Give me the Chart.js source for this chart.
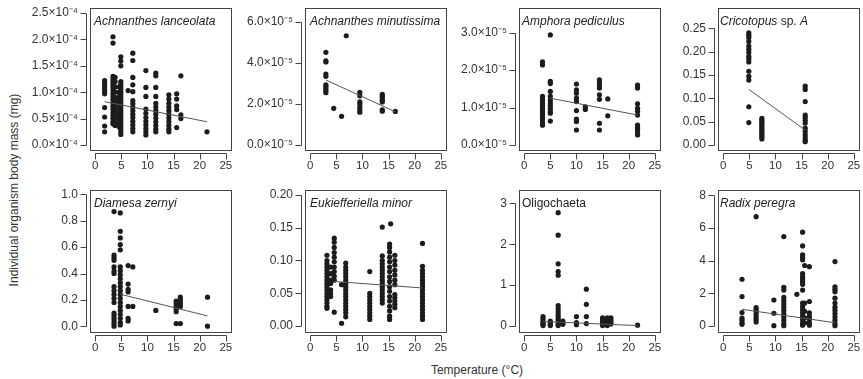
<!DOCTYPE html>
<html>
<head>
<meta charset="utf-8">
<script src="https://cdn.jsdelivr.net/npm/chart.js@4.4.1/dist/chart.umd.min.js"></script>
<style>
  body { margin: 0; background: #fff; font-family: 'Liberation Sans', Arial, sans-serif; }
  #wrap { position: relative; width: 863px; height: 379px; overflow: hidden; }
  #wrap canvas { position: absolute; }
  .ttl { position: absolute; font-size: 12px; line-height: 1; color: #222; white-space: nowrap; font-style: italic; }
  .ttl span { font-style: normal; }
  .axt { position: absolute; font-size: 12px; color: #333; white-space: nowrap; transform: translate(-50%, -50%); }
</style>
</head>
<body>
<div id="wrap">
  <div class="axt" style="left:14px; top:190px; transform: translate(-50%, -50%) rotate(-90deg);">Individual organism body mass (mg)</div>
  <div class="axt" style="left:477px; top:370px;">Temperature (°C)</div>
</div>
<script>
// shared x ticks (temperature, °C)
const xTicks = [0, 5, 10, 15, 20, 25];

// Achnanthes lanceolata (mass in 10^-4 mg)
const achLanTemp = [1.8, 3.4, 3.8, 4.6, 4.9, 6.3, 7.2, 9.7, 11.6, 14.1, 15.6, 16.4, 21.4];
const achLanMass = [
  [1.22, 1.17, 1.12, 1.07, 1.02, 0.97, 0.71, 0.53, 0.36, 0.25],
  [2.05, 1.93, 1.3, 1.25, 1.2, 1.15, 1.1, 1.04, 0.98, 0.92, 0.86, 0.8, 0.74, 0.68, 0.62, 0.56, 0.5, 0.44, 0.4],
  [1.28, 1.2, 1.1, 1.0, 0.9, 0.82, 0.75, 0.66, 0.58, 0.5, 0.42, 0.37],
  [1.1, 1.0, 0.92, 0.85, 0.78, 0.7, 0.62, 0.55, 0.48, 0.4, 0.34],
  [1.67, 1.59, 1.5, 1.2, 1.15, 1.1, 1.05, 1.0, 0.95, 0.9, 0.85, 0.8, 0.75, 0.7, 0.65, 0.6, 0.55, 0.5, 0.45, 0.4, 0.35, 0.3, 0.25, 0.2],
  [1.03],
  [1.74, 1.6, 1.28, 1.14, 1.01, 0.84, 0.78, 0.72, 0.65, 0.58, 0.52, 0.45, 0.38, 0.31, 0.25],
  [1.41, 1.09, 0.92, 0.68, 0.6, 0.52, 0.45, 0.38, 0.31, 0.25, 0.19],
  [1.36, 1.31, 1.09, 0.92, 0.79, 0.72, 0.65, 0.58, 0.51, 0.44, 0.37, 0.3, 0.25],
  [0.95, 0.87, 0.79, 0.72, 0.65, 0.58, 0.51, 0.44, 0.37, 0.3, 0.25],
  [0.97, 0.87, 0.74, 0.67, 0.33],
  [1.31, 0.57, 0.5],
  [0.25]
];
const achLanFit = [[1.8, 0.82], [21.4, 0.44]];
const achLanTicks = [0, 0.5, 1.0, 1.5, 2.0, 2.5];

// Achnanthes minutissima (mass in 10^-5 mg)
const achMinTemp = [3.0, 4.5, 6.0, 6.9, 9.5, 13.8, 16.3];
const achMinMass = [
  [4.52, 4.1, 4.05, 3.46, 3.35, 2.93, 2.85, 2.75, 2.65, 2.55],
  [1.79],
  [1.4],
  [5.33],
  [2.57, 2.4, 2.1, 2.0, 1.84, 1.72, 1.6],
  [2.47, 2.38, 2.27, 2.17, 2.1, 1.72, 1.65],
  [1.64]
];
const achMinFit = [[3.0, 3.17], [16.3, 1.62]];
const achMinTicks = [0, 2, 4, 6];

// Amphora pediculus (mass in 10^-5 mg)
const amphTemp = [3.5, 5.0, 10.0, 11.7, 14.4, 16.0, 21.7];
const amphMass = [
  [2.22, 2.14, 1.3, 1.24, 1.18, 1.12, 1.06, 1.0, 0.94, 0.88, 0.82, 0.75, 0.68, 0.6, 0.53],
  [2.94, 1.7, 1.64, 1.43, 1.3, 1.2, 1.12, 1.05, 0.98, 0.9, 0.85, 0.64],
  [1.63, 1.47, 1.38, 1.25, 1.16, 0.92, 0.69, 0.63, 0.4],
  [1.02, 0.95],
  [1.74, 1.67, 1.6, 1.52, 1.34, 1.22, 0.58, 0.4],
  [1.23, 0.78],
  [1.6, 1.52, 1.1, 0.98, 0.9, 0.8, 0.53, 0.45, 0.38, 0.3, 0.27]
];
const amphFit = [[5.0, 1.25], [21.7, 0.8]];
const amphTicks = [0, 1, 2, 3];

// Cricotopus sp. A (mg)
const cricTemp = [4.9, 7.4, 15.7];
const cricMass = [
  [0.24, 0.235, 0.23, 0.222, 0.212, 0.205, 0.198, 0.19, 0.185, 0.178, 0.158, 0.147, 0.139, 0.082, 0.048],
  [0.057, 0.053, 0.049, 0.045, 0.041, 0.037, 0.033, 0.029, 0.025, 0.021, 0.017, 0.013],
  [0.126, 0.119, 0.093, 0.064, 0.059, 0.053, 0.047, 0.036, 0.029, 0.022, 0.016, 0.01, 0.007]
];
const cricFit = [[4.9, 0.119], [15.7, 0.032]];
const cricTicks = [0, 0.05, 0.1, 0.15, 0.2, 0.25];

// Diamesa zernyi (mg)
const diamTemp = [3.6, 4.8, 6.3, 7.2, 11.6, 15.5, 16.3, 21.5];
const diamMass = [
  [0.87, 0.54, 0.52, 0.5, 0.45, 0.42, 0.4, 0.3, 0.27, 0.24, 0.21, 0.18, 0.1, 0.08, 0.06, 0.04, 0.02, 0.0],
  [0.86, 0.72, 0.67, 0.62, 0.58, 0.45, 0.42, 0.39, 0.36, 0.33, 0.3, 0.27, 0.24, 0.21, 0.18, 0.15, 0.12, 0.09, 0.06, 0.03, 0.01],
  [0.46, 0.32, 0.28, 0.26, 0.15, 0.06, 0.04],
  [0.45, 0.15],
  [0.12],
  [0.19, 0.17, 0.15, 0.13, 0.11, 0.02],
  [0.22, 0.2, 0.18, 0.16, 0.15, 0.02],
  [0.22, 0.0]
];
const diamFit = [[4.8, 0.243], [21.5, 0.078]];
const diamTicks = [0, 0.2, 0.4, 0.6, 0.8, 1.0];

// Eukiefferiella minor (mg)
const eukTemp = [3.2, 3.9, 4.6, 6.0, 6.8, 11.4, 13.8, 15.2, 15.4, 16.2, 21.5];
const eukMass = [
  [0.108, 0.1, 0.095, 0.09, 0.085, 0.08, 0.075, 0.07, 0.065, 0.06, 0.055, 0.05, 0.045, 0.04, 0.035, 0.03, 0.027],
  [0.09, 0.08, 0.07, 0.065, 0.055, 0.05, 0.045],
  [0.134, 0.128, 0.12, 0.112, 0.105, 0.098, 0.09, 0.083, 0.076, 0.07, 0.021],
  [0.063, 0.004],
  [0.096, 0.09, 0.085, 0.08, 0.075, 0.07, 0.065, 0.06, 0.055, 0.05, 0.045, 0.04, 0.035, 0.03, 0.025, 0.02, 0.014],
  [0.083, 0.05, 0.045, 0.04, 0.035, 0.03, 0.025, 0.02, 0.015, 0.01],
  [0.151, 0.107, 0.1, 0.095, 0.09, 0.085, 0.08, 0.075, 0.07, 0.065, 0.06, 0.055, 0.05, 0.045, 0.04, 0.035],
  [0.125, 0.12, 0.113, 0.105, 0.098, 0.09, 0.083, 0.075, 0.068, 0.06, 0.053, 0.045, 0.038, 0.03, 0.023, 0.015, 0.01],
  [0.156],
  [0.108, 0.1, 0.093, 0.085, 0.078, 0.07, 0.063, 0.048, 0.043, 0.038, 0.033, 0.028],
  [0.126, 0.091, 0.085, 0.08, 0.075, 0.07, 0.065, 0.06, 0.055, 0.05, 0.045, 0.04, 0.035, 0.03, 0.025, 0.02, 0.015, 0.01]
];
const eukFit = [[4.6, 0.068], [21.5, 0.058]];
const eukTicks = [0, 0.05, 0.1, 0.15, 0.2];

// Oligochaeta (mg)
const oligTemp = [3.6, 5.0, 6.5, 7.4, 10.0, 11.9, 15.0, 15.9, 16.6, 21.7];
const oligMass = [
  [0.23, 0.18, 0.12, 0.08, 0.04, 0.01],
  [0.12, 0.08, 0.04, 0.01],
  [2.77, 2.22, 1.52, 1.33, 1.24, 0.5, 0.42, 0.35, 0.28, 0.22, 0.16, 0.1, 0.04, 0.01],
  [0.12, 0.08, 0.04],
  [0.23, 0.08, 0.03],
  [0.9, 0.53, 0.23, 0.06],
  [0.2, 0.15, 0.1, 0.05, 0.01],
  [0.2, 0.15, 0.1, 0.05, 0.01],
  [0.2, 0.15, 0.1, 0.05],
  [0.02]
];
const oligFit = [[3.6, 0.11], [21.7, 0.01]];
const oligTicks = [0, 1, 2, 3];

// Radix peregra (mg)
const radTemp = [3.6, 6.3, 9.7, 11.6, 14.1, 15.2, 15.6, 16.5, 21.4];
const radMass = [
  [2.86, 1.8, 0.82, 0.48, 0.35, 0.2, 0.1],
  [6.69, 1.12, 1.0, 0.85, 0.7, 0.55, 0.4, 0.25],
  [1.59, 0.78, 0.02],
  [5.47, 2.37, 2.2, 1.75, 1.55, 1.35, 1.15, 0.95, 0.75, 0.55, 0.35, 0.15, 0.02],
  [1.94],
  [5.74, 4.9, 4.35, 4.2, 4.05, 3.2, 3.0, 2.85, 2.7, 2.55, 2.2, 1.4, 1.2, 1.0, 0.8, 0.6, 0.4, 0.2, 0.05],
  [3.7, 1.4, 0.9, 0.5, 0.2],
  [3.63, 1.5, 0.8, 0.6, 0.4, 0.2, 0.05],
  [3.94, 2.4, 2.25, 2.1, 1.7, 1.4, 1.15, 0.95, 0.75, 0.55, 0.35, 0.15, 0.02]
];
const radFit = [[3.6, 1.02], [21.4, 0.2]];
const radTicks = [0, 2, 4, 6, 8];

// layout: box left per column, box top per row
const colLeft = [90, 305, 519, 718];
const rowTop = [8, 190];
const boxW = 143, boxH = 142;

const panels = [
  { title: 'Achnanthes lanceolata', temp: achLanTemp, mass: achLanMass, fit: achLanFit, ticks: achLanTicks,
    fmt: v => v.toFixed(1) + '×10⁻⁴', yMin: -0.095, yMax: 2.595, col: 0, row: 0, tx: 4 },
  { title: 'Achnanthes minutissima', temp: achMinTemp, mass: achMinMass, fit: achMinFit, ticks: achMinTicks,
    fmt: v => v.toFixed(1) + '×10⁻⁵', yMin: -0.244, yMax: 6.683, col: 1, row: 0, tx: 5 },
  { title: 'Amphora pediculus', temp: amphTemp, mass: amphMass, fit: amphFit, ticks: amphTicks,
    fmt: v => v.toFixed(1) + '×10⁻⁵', yMin: -0.134, yMax: 3.66, col: 2, row: 0, tx: 3 },
  { title: 'Cricotopus<span> sp. </span>A', temp: cricTemp, mass: cricMass, fit: cricFit, ticks: cricTicks,
    fmt: v => v.toFixed(2), yMin: -0.0107, yMax: 0.2935, col: 3, row: 0, tx: 2 },
  { title: 'Diamesa zernyi', temp: diamTemp, mass: diamMass, fit: diamFit, ticks: diamTicks,
    fmt: v => v.toFixed(1), yMin: -0.044, yMax: 1.034, col: 0, row: 1, tx: 4 },
  { title: 'Eukiefferiella minor', temp: eukTemp, mass: eukMass, fit: eukFit, ticks: eukTicks,
    fmt: v => v.toFixed(2), yMin: -0.0092, yMax: 0.2076, col: 1, row: 1, tx: 5 },
  { title: '<span>Oligochaeta</span>', temp: oligTemp, mass: oligMass, fit: oligFit, ticks: oligTicks,
    fmt: v => String(v), yMin: -0.147, yMax: 3.325, col: 2, row: 1, tx: 3 },
  { title: 'Radix peregra', temp: radTemp, mass: radMass, fit: radFit, ticks: radTicks,
    fmt: v => String(v), yMin: -0.367, yMax: 8.32, col: 3, row: 1, tx: 2 }
];

const fontFam = "'Liberation Sans', Arial, sans-serif";

// box round the plot area plus R-style axes set off from it
const frame = {
  id: 'frame',
  afterDraw(chart) {
    const { ctx, chartArea: a, scales: { x, y } } = chart;
    ctx.save();
    ctx.strokeStyle = '#444';
    ctx.lineWidth = 1;
    ctx.strokeRect(a.left + 0.5, a.top + 0.5, a.right - a.left, a.bottom - a.top);
    const ax = a.left - 3.5, ay = a.bottom + 3.5;
    const yp = y.ticks.map(t => Math.round(y.getPixelForValue(t.value)) + 0.5);
    const xp = x.ticks.map(t => Math.round(x.getPixelForValue(t.value)) + 0.5);
    ctx.beginPath();
    ctx.moveTo(ax, Math.max(...yp));
    ctx.lineTo(ax, Math.min(...yp));
    yp.forEach(p => { ctx.moveTo(ax, p); ctx.lineTo(ax - 6, p); });
    ctx.moveTo(Math.min(...xp), ay);
    ctx.lineTo(Math.max(...xp), ay);
    xp.forEach(p => { ctx.moveTo(p, ay); ctx.lineTo(p, ay + 6); });
    ctx.stroke();
    ctx.restore();
  }
};

const wrap = document.getElementById('wrap');

panels.forEach(p => {
  const L = colLeft[p.col], T = rowTop[p.row];
  const cv = document.createElement('canvas');
  cv.width = 90 + boxW + 2;
  cv.height = 8 + boxH + 30;
  cv.style.left = (L - 90) + 'px';
  cv.style.top = (T - 8) + 'px';
  wrap.appendChild(cv);

  const ttl = document.createElement('div');
  ttl.className = 'ttl';
  ttl.innerHTML = p.title;
  ttl.style.left = (L + p.tx) + 'px';
  ttl.style.top = (T + 7) + 'px';
  wrap.appendChild(ttl);

  const pts = [];
  p.temp.forEach((t, i) => p.mass[i].forEach(m => pts.push({ x: t, y: m })));

  new Chart(cv, {
    type: 'scatter',
    data: {
      datasets: [
        {
          type: 'line',
          data: p.fit.map(([x, y]) => ({ x, y })),
          borderColor: '#555',
          borderWidth: 1,
          pointRadius: 0,
          order: 0
        },
        {
          data: pts,
          backgroundColor: '#1c1c1c',
          borderWidth: 0,
          pointRadius: 2.6,
          order: 1
        }
      ]
    },
    options: {
      responsive: false,
      animation: false,
      events: [],
      layout: { padding: { top: 8, right: 2, left: 0, bottom: 0 } },
      plugins: { legend: { display: false }, tooltip: { enabled: false } },
      scales: {
        x: {
          type: 'linear', min: -1, max: 26,
          grid: { display: false, drawTicks: false },
          border: { display: false },
          afterBuildTicks: s => { s.ticks = xTicks.map(v => ({ value: v })); },
          afterFit: s => { s.height = 30; s.paddingLeft = 0; s.paddingRight = 0; },
          ticks: { padding: 9, autoSkip: false, maxRotation: 0, font: { family: fontFam, size: 11.5 }, color: '#333', callback: v => String(v) }
        },
        y: {
          type: 'linear', min: p.yMin, max: p.yMax,
          grid: { display: false, drawTicks: false },
          border: { display: false },
          afterBuildTicks: s => { s.ticks = p.ticks.map(v => ({ value: v })); },
          afterFit: s => { s.width = 90; s.paddingTop = 0; s.paddingBottom = 0; },
          ticks: { padding: 12, autoSkip: false, font: { family: fontFam, size: 12 }, color: '#333', callback: p.fmt }
        }
      }
    },
    plugins: [frame]
  });
});
</script>
</body>
</html>
